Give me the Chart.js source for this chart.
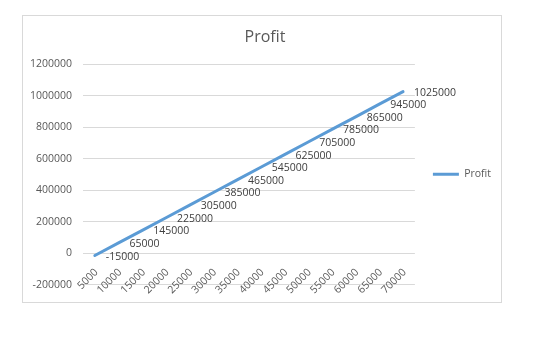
<!DOCTYPE html>
<html>
<head>
<meta charset="utf-8">
<script src="https://cdn.jsdelivr.net/npm/chart.js@4/dist/chart.umd.min.js"></script>
<style>
  html, body { margin: 0; padding: 0; background: #ffffff; }
  body { width: 543px; height: 349px; position: relative; overflow: hidden; }
  #box { position: absolute; left: 22px; top: 15px; width: 478px; height: 286px; border: 1px solid #d9d9d9; background: #fff; }
  canvas { display: block; }
</style>
</head>
<body>
<div id="box"><canvas id="c" width="478" height="286"></canvas></div>
<script>
const categories = ['5000','10000','15000','20000','25000','30000','35000','40000','45000','50000','55000','60000','65000','70000'];
const profit = [-15000, 65000, 145000, 225000, 305000, 385000, 465000, 545000, 625000, 705000, 785000, 865000, 945000, 1025000];
const yMin = -200000;
const yMax = 1200000;
const yStep = 200000;

const FONT = '"Open Sans", "Liberation Sans", sans-serif';

const valueLabels = {
  id: 'valueLabels',
  afterDatasetsDraw(chart) {
    const ctx = chart.ctx;
    chart.data.datasets.forEach((ds, i) => {
      const meta = chart.getDatasetMeta(i);
      meta.data.forEach((pt, j) => {
        ctx.save();
        ctx.font = '10.5px ' + FONT;
        ctx.fillStyle = '#404040';
        ctx.textAlign = 'left';
        ctx.textBaseline = 'middle';
        ctx.fillText(String(ds.data[j]), pt.x + 11, pt.y + 1);
        ctx.restore();
      });
    });
  }
};

new Chart(document.getElementById('c'), {
  type: 'line',
  data: {
    labels: categories,
    datasets: [{
      label: 'Profit',
      data: profit,
      borderColor: '#5b9bd5',
      backgroundColor: '#5b9bd5',
      borderWidth: 3,
      borderCapStyle: 'round',
      borderJoinStyle: 'round',
      pointRadius: 0,
      pointHoverRadius: 0,
      tension: 0,
      fill: false
    }]
  },
  options: {
    responsive: false,
    animation: false,
    events: [],
    layout: { padding: { left: 6, right: 0, top: 0, bottom: 14 } },
    plugins: {
      title: {
        display: true,
        text: 'Profit',
        color: '#595959',
        font: { family: FONT, size: 16, weight: 'normal', lineHeight: 1.2 },
        padding: { top: 12, bottom: 16.8 }
      },
      legend: {
        display: true,
        position: 'right',
        fullSize: false,
        maxWidth: 87,
        labels: {
          color: '#595959',
          font: { family: FONT, size: 10.5 },
          boxWidth: 26,
          boxHeight: 3,
          padding: 18,
          generateLabels: (chart) => Chart.defaults.plugins.legend.labels.generateLabels(chart).map(l => Object.assign({}, l, { lineWidth: 0 }))
        }
      },
      tooltip: { enabled: false }
    },
    scales: {
      x: {
        position: { y: 0 },
        offset: true,
        grid: { display: false, drawTicks: false },
        border: { display: false },
        ticks: {
          color: '#595959',
          font: { family: FONT, size: 10.5 },
          autoSkip: false,
          minRotation: 45,
          maxRotation: 45,
          padding: 13,
          labelOffset: 1.5
        }
      },
      y: {
        min: yMin,
        max: yMax,
        afterFit: (s) => { s.width = 54; },
        grid: { color: '#d9d9d9', lineWidth: 1, drawTicks: false },
        border: { display: false },
        ticks: {
          stepSize: yStep,
          color: '#595959',
          font: { family: FONT, size: 10.5 },
          padding: 11,
          callback: (v) => String(v)
        }
      }
    }
  },
  plugins: [valueLabels]
});
</script>
</body>
</html>
